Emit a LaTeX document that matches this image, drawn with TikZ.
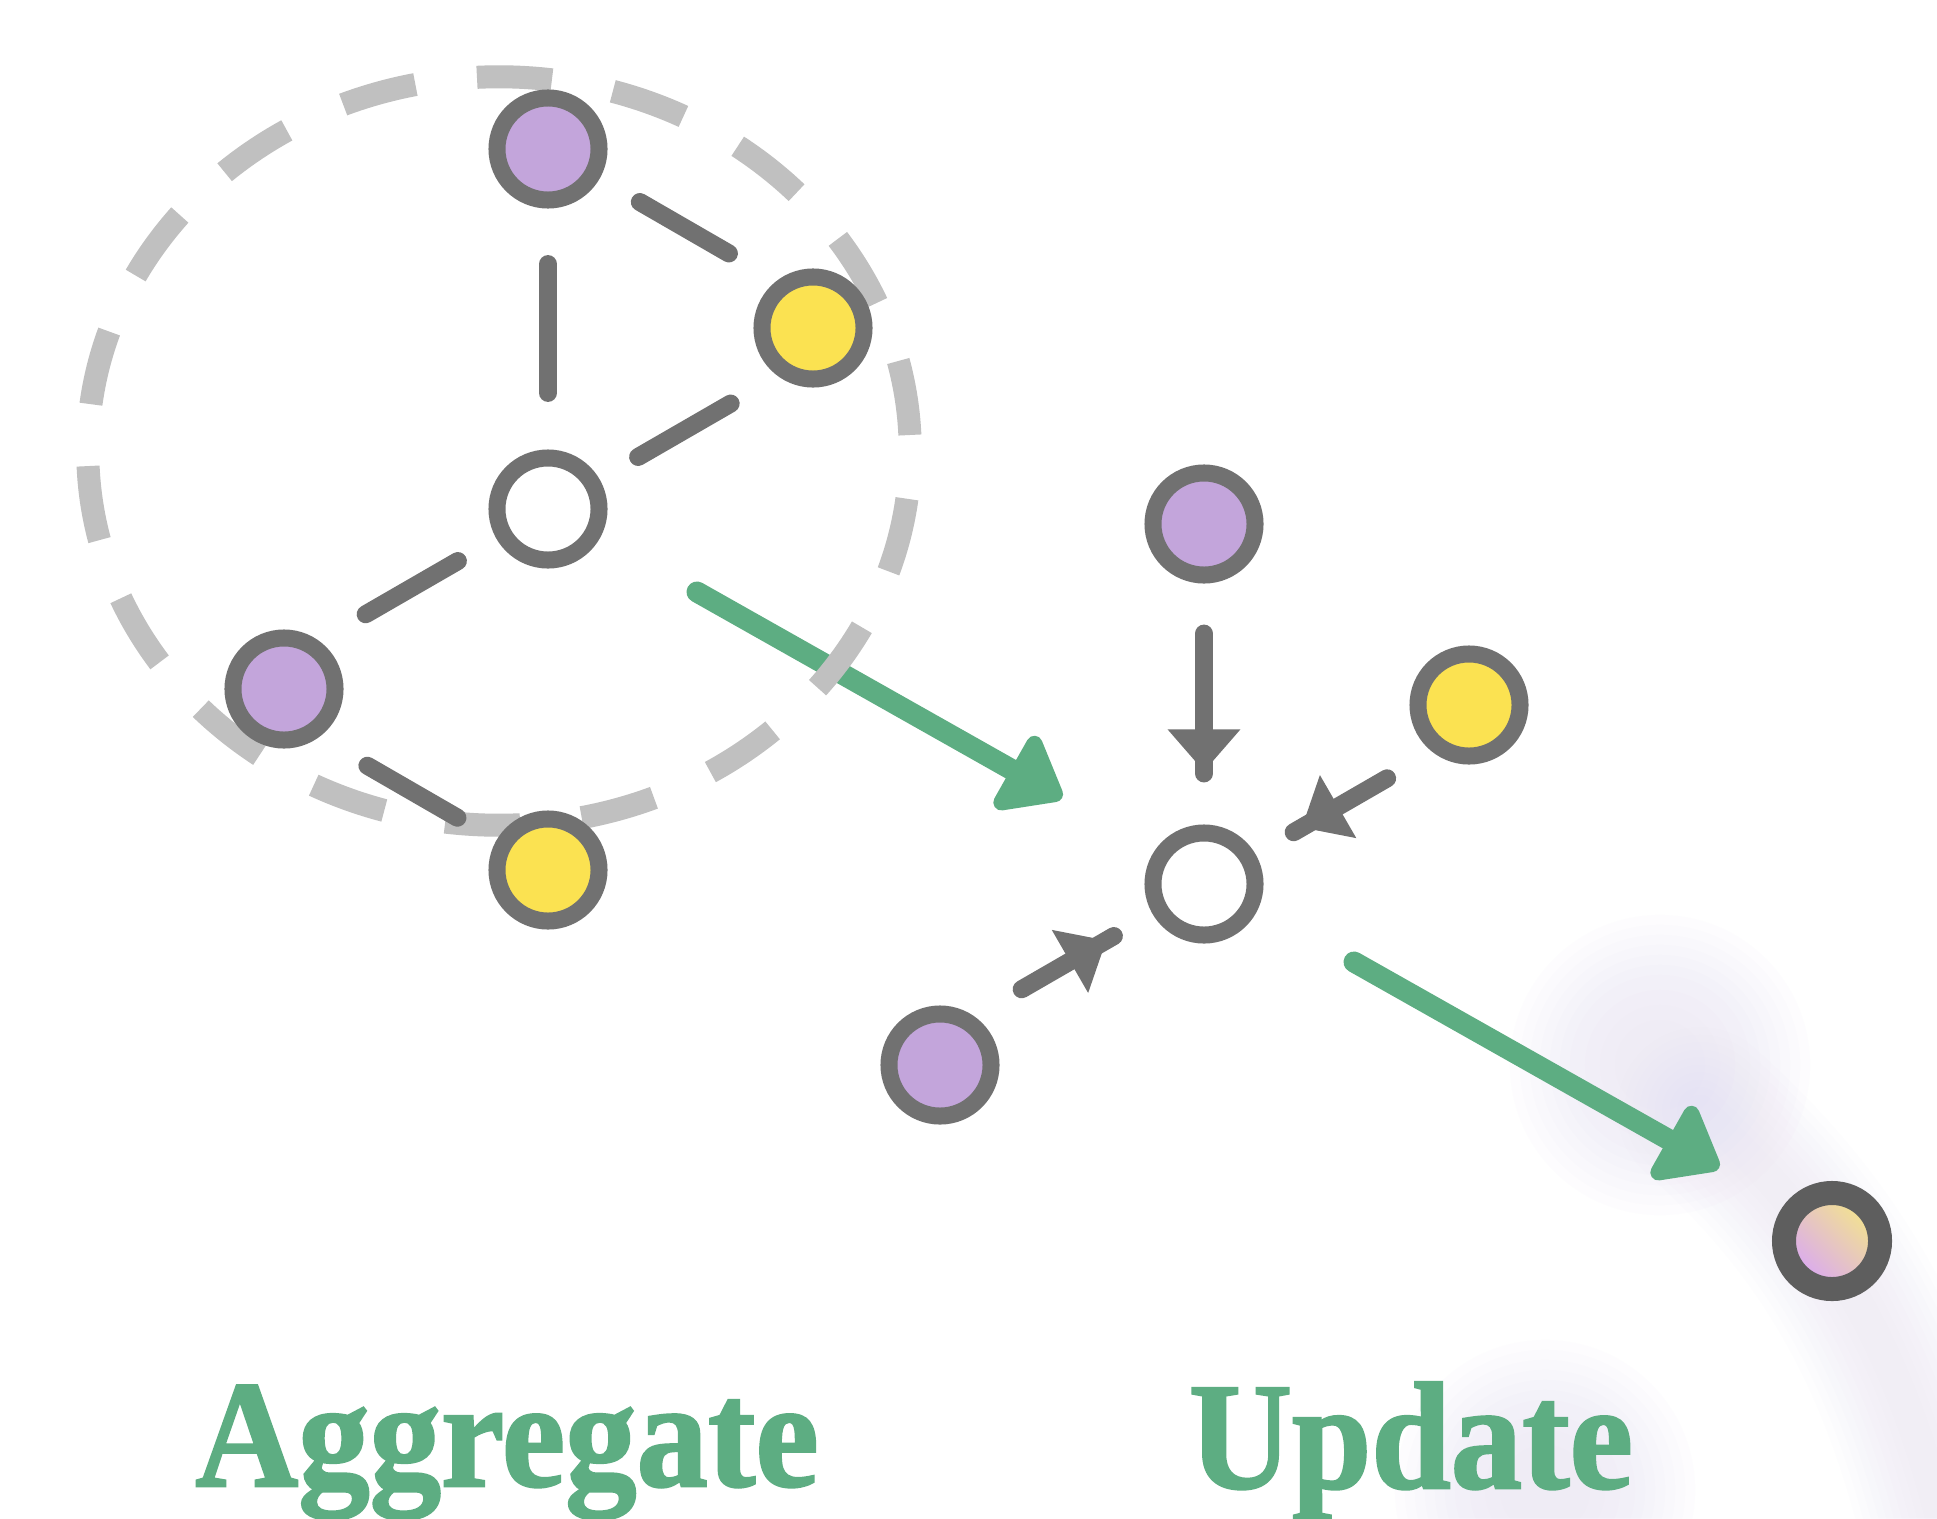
\documentclass[tikz,border=0pt]{standalone}
\usepackage{graphicx}
\usepackage{fontspec}
\setmainfont{Liberation Serif}
\newfontfamily\labfont{Liberation Serif}[BoldFeatures={FakeBold=1.6}]
\usetikzlibrary{arrows.meta,decorations.markings,calc}
\definecolor{nodegray}{HTML}{717171}
\definecolor{fingray}{HTML}{5E5E5E}
\definecolor{dashgray}{HTML}{C0C0C0}
\definecolor{purp}{HTML}{C3A5DB}
\definecolor{yell}{HTML}{FBE251}
\definecolor{grn}{HTML}{5DAD82}
\definecolor{lav}{HTML}{E6E0F4}
\definecolor{fpurp}{HTML}{D9A6F7}
\definecolor{fyell}{HTML}{F4E689}
\begin{document}
\begin{tikzpicture}[x=0.01cm,y=-0.01cm,
  basenode/.style={circle, draw=nodegray, line width=0.17cm, minimum size=1.02cm, inner sep=0pt},
  pnode/.style={basenode, fill=purp},
  ynode/.style={basenode, fill=yell},
  wnode/.style={basenode, fill=white},
  fnode/.style={circle, draw=fingray, line width=0.24cm, minimum size=0.96cm, inner sep=0pt,
    top color=fyell, bottom color=fpurp, shading angle=-45},
  lnk/.style={draw=nodegray, line width=0.18cm, line cap=round},
  pin/.style={lnk, postaction={decorate}, decoration={markings,
    mark=at position -0.53cm with {\arrow[nodegray]{Triangle[length=0.42cm,width=0.70cm]}}}},
  garrow/.style={draw=grn, line width=0.21cm, line cap=round,
    -{Triangle[length=0.64cm,width=0.96cm,round]}},
  dashring/.style={draw=dashgray, line width=0.23cm, dash pattern=on 0.75cm off 0.62cm, dash phase=1.21cm},
  haze/.style={draw=none, fill=lav, fill opacity=0.07},
  hazeband/.style={draw=lav, draw opacity=0.06, line cap=round},
  lab/.style={text=grn, font=\labfont\bfseries\fontsize{43.4}{50}\selectfont, inner sep=0pt, anchor=base}
]
\useasboundingbox (0,0) rectangle (1937,1518);
\fill[white] (0,0) rectangle (1937,1518);

% faint background haze
\foreach \r in {0.45,0.6,0.75,0.9,1.0,1.1,1.2,1.3,1.4,1.5}{
  \fill[haze] (1660,1065) circle [radius=\r cm];
  \fill[haze] (1545,1490) circle [radius=\r cm];
}
\foreach \w in {0.3,0.45,0.6,0.75,0.9,1.05,1.2,1.35,1.5,1.65}{
  \draw[hazeband, line width=\w cm] (1700,1110) .. controls (1800,1200) and (1900,1320) .. (1950,1560);
}

% green arrows
\coordinate (g1s) at (697,592);
\coordinate (g1e) at (1062,798);
\coordinate (g2s) at (1354,962);
\coordinate (g2e) at (1719,1168);
\draw[garrow] (g1s) -- (g1e);
\draw[garrow] (g2s) -- (g2e);

% dashed neighbourhood
\draw[dashring] (499,451) ellipse [x radius=4.11cm, y radius=3.74cm];

% aggregate graph
\node[pnode] (a1) at (548,149) {};
\node[ynode] (a2) at (813,328) {};
\node[wnode] (a0) at (548,509) {};
\node[pnode] (a3) at (284,689) {};
\node[ynode] (a4) at (548,870) {};
\coordinate (h12) at ($(a1)+(-30:1cm)$);
\coordinate (h02) at ($(a0)+(30:1cm)$);
\coordinate (h03) at ($(a0)+(210:1cm)$);
\coordinate (h43) at ($(a4)+(150:1cm)$);
\coordinate (p12) at ($(a1)!(a2)!(h12)$);
\coordinate (p02) at ($(a0)!(a2)!(h02)$);
\coordinate (p03) at ($(a0)!(a3)!(h03)$);
\coordinate (p43) at ($(a4)!(a3)!(h43)$);
\draw[lnk, shorten <=0.555cm, shorten >=0.565cm] (a1) -- (a0);
\draw[lnk, shorten <=0.465cm, shorten >=1.10cm] (a1) -- (p12);
\draw[lnk, shorten <=0.445cm, shorten >=1.09cm] (a0) -- (p02);
\draw[lnk, shorten <=0.445cm, shorten >=1.08cm] (a0) -- (p03);
\draw[lnk, shorten <=0.45cm, shorten >=1.105cm] (a4) -- (p43);

% update step
\node[pnode] (b1) at (1204,524) {};
\node[ynode] (b2) at (1469,705) {};
\node[wnode] (b0) at (1204,884) {};
\node[pnode] (b3) at (940,1065) {};
\coordinate (k2) at ($(b0)+(30:1cm)$);
\coordinate (k3) at ($(b0)+(210:1cm)$);
\coordinate (q2) at ($(b0)!(b2)!(k2)$);
\coordinate (q3) at ($(b0)!(b3)!(k3)$);
\draw[pin, shorten <=0.5cm, shorten >=0.51cm] (b1) -- (b0);
\draw[pin, shorten <=1.075cm, shorten >=0.44cm] (q2) -- (b0);
\draw[pin, shorten <=1.085cm, shorten >=0.445cm] (q3) -- (b0);

% result
\node[fnode] (fin) at (1832,1241) {};

% labels
\node[lab] (tagg) at (507,1486) {\scalebox{0.935}[1]{Aggregate}};
\node[lab] (tupd) at (1411,1488) {\scalebox{0.935}[1]{Update}};
\end{tikzpicture}
\end{document}
